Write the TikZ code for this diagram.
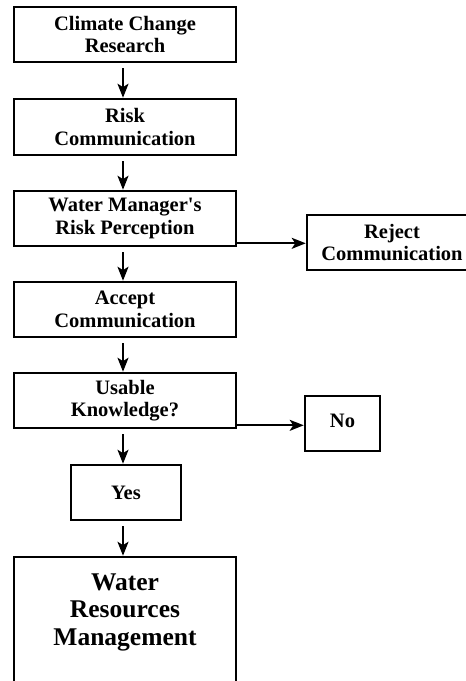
\documentclass[tikz,border=0pt]{standalone}
\usepackage{fontspec}
\setmainfont{Liberation Serif}[Ligatures=TeXOff]
\usetikzlibrary{arrows.meta,calc}
\begin{document}
\begin{tikzpicture}[x=1pt,y=-1pt,
  box/.style={draw=black,line width=2.6pt,rectangle,inner sep=0pt,align=center,
    font=\fontsize{20.5}{22.5}\selectfont\bfseries},
  flow/.style={draw=black,line width=2pt,-{Stealth[length=14pt,width=11pt,inset=3.5pt]}}]
\useasboundingbox (0,0) rectangle (466,681);
\clip (0,0) rectangle (466,681);
\node[box,minimum width=222pt,minimum height=55pt] (b1) at (125,34.5) {Climate Change\\Research};
\node[box,minimum width=222pt,minimum height=56pt] (b2) at (125,127) {Risk\\Communication};
\node[box,minimum width=222pt,minimum height=55pt] (b3) at (125,218.5) {Water Manager's\\Risk Perception};
\node[box,minimum width=222pt,minimum height=55pt] (b4) at (125,309.5) {Accept\\Communication};
\node[box,minimum width=222pt,minimum height=55pt] (b5) at (125,400.5) {Usable\\Knowledge?};
\node[box,minimum width=110pt,minimum height=55pt] (yes) at (126,492.5) {Yes};
\node[box,minimum width=222pt,minimum height=150pt] (b7) at (125,632) {};
\node[font=\fontsize{25.5}{27.5}\selectfont\bfseries,align=center] (wrm) at (125,612) {Water\\Resources\\Management};
\node[box,minimum width=170pt,minimum height=55pt] (rej) at (392,242.5) {Reject\\Communication};
\node[box,minimum width=75pt,minimum height=55pt,text depth=5pt] (no) at (342.5,423.5) {No};
\coordinate (r3) at ($(b3.south east)+(0,-4)$);
\coordinate (r5) at ($(b5.south east)+(0,-4)$);
\draw[flow] ($(b1.south)+(-2,5)$) -- ($(b2.north)+(-2,0)$);
\draw[flow] ($(b2.south)+(-2,5)$) -- ($(b3.north)+(-2,0)$);
\draw[flow] ($(b3.south)+(-2,5)$) -- ($(b4.north)+(-2,0)$);
\draw[flow] ($(b4.south)+(-2,5)$) -- ($(b5.north)+(-2,0)$);
\draw[flow] ($(b5.south)+(-2,5)$) -- ($(yes.north)+(-3,0)$);
\draw[flow] ($(yes.south)+(-3,5)$) -- ($(b7.north)+(-2,0)$);
\draw[flow] (r3) -- (r3 -| rej.west);
\draw[flow] (r5) -- (r5 -| no.west);
\end{tikzpicture}
\end{document}
